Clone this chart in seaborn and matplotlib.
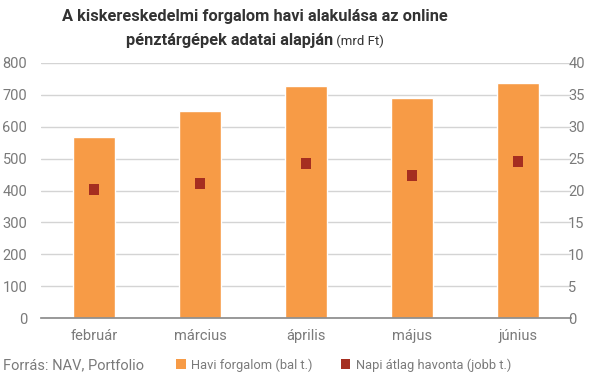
import matplotlib
matplotlib.use("Agg")
import matplotlib.pyplot as plt
import seaborn as sns
import pandas as pd
from matplotlib.patches import Patch

months = ["február", "március", "április", "május", "június"]
havi_forgalom = [568, 650, 728, 691, 737]
napi_atlag = [20.2, 21.1, 24.3, 22.3, 24.6]
left_ticks = [0, 100, 200, 300, 400, 500, 600, 700, 800]
right_ticks = [0, 5, 10, 15, 20, 25, 30, 35, 40]

bar_color = "#F79B46"
dot_color = "#A52E20"
text_color = "#7a7a7a"
title_color = "#333333"

sns.set_theme(style="white")
plt.rcParams['font.family'] = ['Roboto', 'DejaVu Sans']

df = pd.DataFrame({"honap": months, "havi": havi_forgalom, "napi": napi_atlag})

fig = plt.figure(figsize=(6.05, 3.78), dpi=100)
ax = fig.add_axes([41/605, 1 - 318/378, 530/605, 255/378])

sns.barplot(data=df, x="honap", y="havi", color=bar_color, width=0.405,
            saturation=1, ax=ax, zorder=2)
ax.set_ylim(0, 800)
ax.set_yticks(left_ticks)
ax.set_xlim(-0.5, len(months) - 0.5)
ax.grid(axis="y", color="#d4d4d4", linewidth=1, zorder=0)
ax.set_axisbelow(True)
for s in ["top", "right", "left"]:
    ax.spines[s].set_visible(False)
ax.spines["bottom"].set_color("#8c8c8c")
ax.set_xlabel("")
ax.set_ylabel("")
ax.tick_params(axis="both", length=0, colors=text_color, labelsize=10.5)
ax.tick_params(axis="x", pad=8)
ax.tick_params(axis="y", pad=10)

ax2 = ax.twinx()
sns.scatterplot(data=df, x="honap", y="napi", marker="s", s=62, color=dot_color,
                edgecolor="none", ax=ax2, zorder=3)
ax2.set_ylim(0, 40)
ax2.set_yticks(right_ticks)
for s in ["top", "right", "left", "bottom"]:
    ax2.spines[s].set_visible(False)
ax2.set_ylabel("")
ax2.set_xlabel("")
ax2.tick_params(axis="y", length=0, colors=text_color, labelsize=10.5, pad=-2)
ax2.set_xlim(-0.5, len(months) - 0.5)

fig.text(255 / 605, 1 - 17/378, "A kiskereskedelmi forgalom havi alakulása az online",
         ha="center", va="center", fontsize=11.8, fontweight="bold", color=title_color)

# second title line: bold part + regular unit part, centred together
renderer = fig.canvas.get_renderer()
tb = fig.text(0, 1 - 41/378, "pénztárgépek adatai alapján", ha="left", va="center",
              fontsize=11.8, fontweight="bold", color=title_color)
tu = fig.text(0, 1 - 41/378, " (mrd Ft)", ha="left", va="center",
              fontsize=9.5, color=title_color)
wb = tb.get_window_extent(renderer).width
wu = tu.get_window_extent(renderer).width
x0 = 255 - (wb + wu) / 2
tb.set_x(x0 / 605)
tu.set_x((x0 + wb) / 605)

fig.text(3/605, 1 - 365/378, "Forrás: NAV, Portfolio", ha="left", va="center",
         fontsize=10.5, color=text_color)

handles = [Patch(facecolor=bar_color, edgecolor="none"),
           Patch(facecolor=dot_color, edgecolor="none")]
fig.legend(handles, ["Havi forgalom (bal t.)", "Napi átlag havonta (jobb t.)"],
           loc="center left", bbox_to_anchor=(176/605, 1 - 365/378), ncol=2,
           frameon=False, fontsize=9.3, handlelength=0.75, handleheight=0.75,
           handletextpad=0.4, columnspacing=2.2, labelcolor=text_color,
           borderaxespad=0, borderpad=0)

fig.savefig("out.png", dpi=100)
